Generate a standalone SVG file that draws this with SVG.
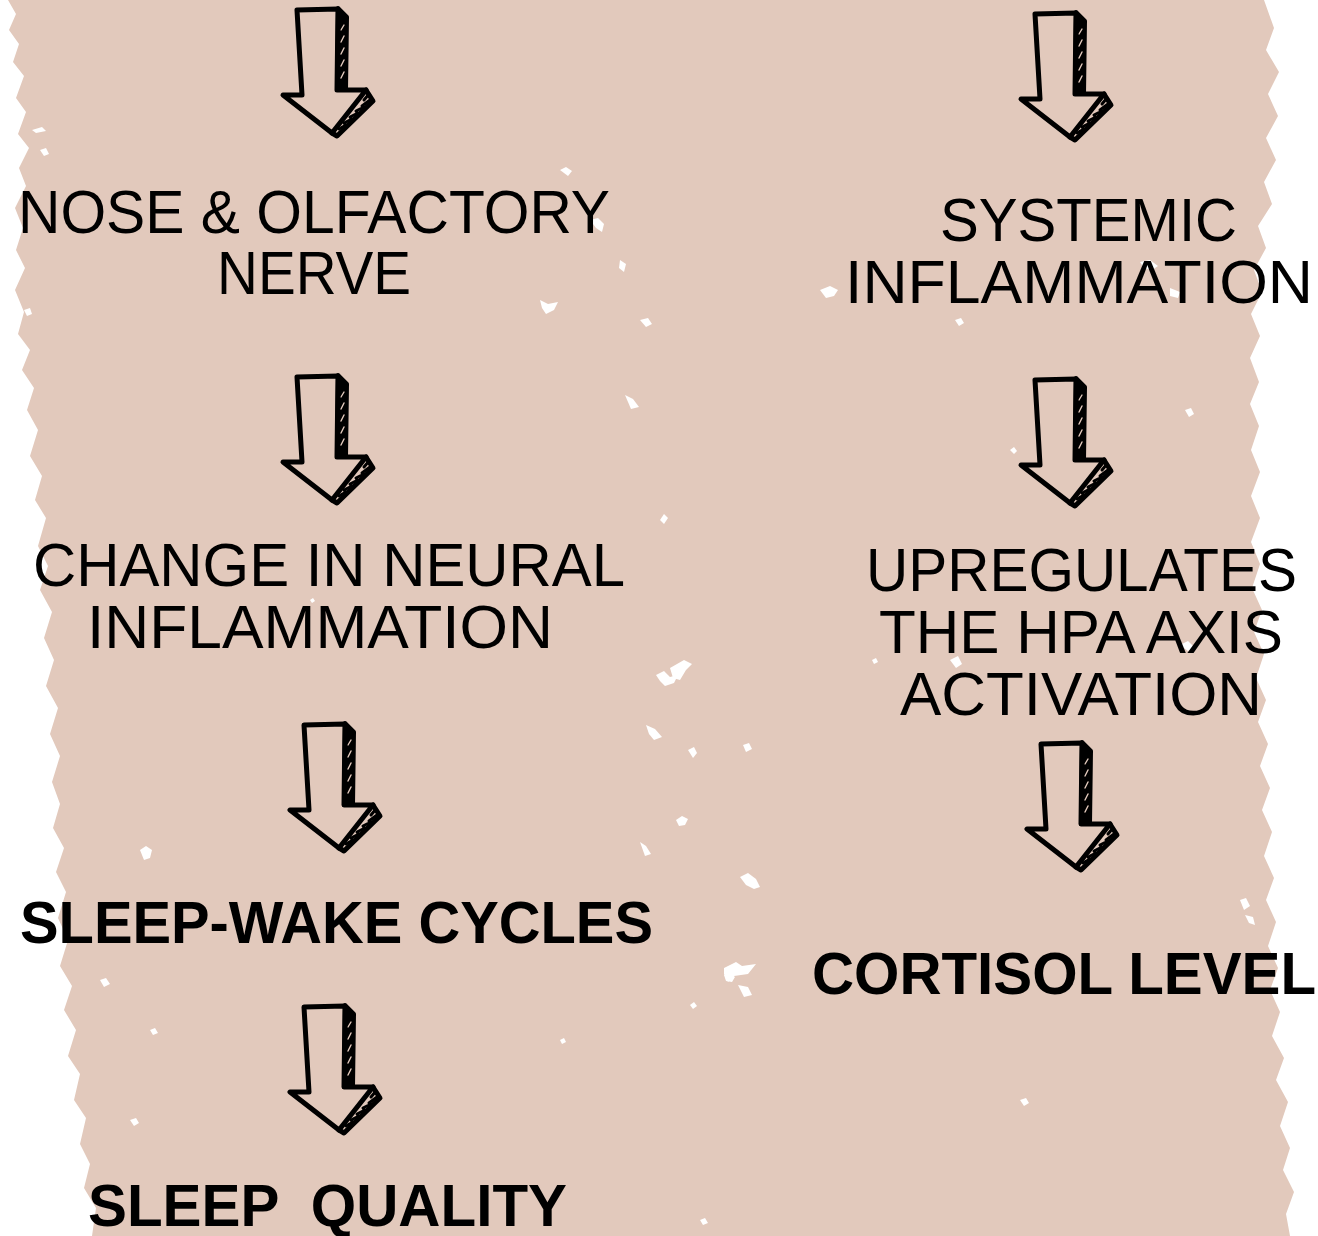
<svg xmlns="http://www.w3.org/2000/svg" width="1318" height="1236" viewBox="0 0 1318 1236">
<style>
.t{font-family:"Liberation Sans","DejaVu Sans",sans-serif;font-size:62px;fill:#000;white-space:pre}
.b{font-family:"Liberation Sans","DejaVu Sans",sans-serif;font-size:60px;font-weight:bold;fill:#000;white-space:pre}
.ao{fill:none;stroke:#000;stroke-width:5;stroke-linejoin:round;stroke-linecap:round}
.as{fill:#000;stroke:#000;stroke-width:4;stroke-linejoin:round}
.hl{stroke:#e2c9bc;stroke-width:1.4;stroke-linecap:round}
.hd{stroke:#000;stroke-width:3;stroke-linecap:round}
.sp{fill:#fff}
</style>
<defs>
<symbol id="arrow" overflow="visible">
<path class="as" d="M58,8 L67,17 L66,90 L57,90 Z"/>
<path class="hl" d="M61,30 L64,25 M61,42 L64,36 M61,54 L64,48 M61,66 L64,60 M61,78 L64,72"/>
<path class="ao" d="M86,90 L93,101 L57,136 L52,133"/>
<path class="hd" d="M89,94 L84,100 M90,100 L82,106 M84,107 L76,111 M78,113 L70,117 M72,119 L64,123 M66,125 L59,129"/>
<path class="ao" d="M17,10 L58,9 L57,90 L86,90 L52,133 L3,95 L22,95 Z"/>
</symbol>
</defs>
<rect width="1318" height="1236" fill="#fff"/>
<path fill="#e2c9bc" d="M8,0 L16,14 L9,30 L19,44 L13,62 L24,76 L16,98 L26,112 L18,134 L29,148 L19,168 L26,186 L15,208 L23,228 L16,250 L25,268 L15,290 L24,312 L18,334 L30,350 L22,370 L34,388 L27,410 L38,430 L30,456 L42,476 L35,500 L46,518 L38,546 L48,566 L40,590 L52,612 L44,638 L54,660 L46,686 L58,708 L50,734 L60,756 L52,782 L60,804 L53,828 L64,848 L56,872 L66,892 L58,918 L68,940 L60,966 L72,986 L64,1010 L76,1030 L68,1056 L80,1074 L74,1100 L86,1118 L80,1144 L90,1164 L84,1188 L96,1208 L92,1236 L1290,1236 L1286,1214 L1294,1192 L1283,1170 L1290,1148 L1280,1126 L1288,1102 L1276,1080 L1284,1058 L1272,1036 L1280,1012 L1270,990 L1278,968 L1268,946 L1276,922 L1266,900 L1274,878 L1264,856 L1272,832 L1262,810 L1270,788 L1260,766 L1268,744 L1258,722 L1266,700 L1256,678 L1264,654 L1254,632 L1262,610 L1252,588 L1260,564 L1251,542 L1260,518 L1251,496 L1260,472 L1251,450 L1259,426 L1250,404 L1259,382 L1250,358 L1260,336 L1251,314 L1262,292 L1254,270 L1266,248 L1258,226 L1272,204 L1264,182 L1276,160 L1266,138 L1278,116 L1268,94 L1279,72 L1266,50 L1274,28 L1264,0 Z"/>
<g id="speckles">
<path class="sp" d="M656,675 l8,-4 l6,6 l8,-2 l-4,8 l-9,3 l-5,-5 z"/>
<path class="sp" d="M670,668 l14,-8 l8,4 l-6,6 l-6,10 l-7,-2 z"/>
<path class="sp" d="M646,725 l9,4 l7,8 l-8,3 l-5,-6 z"/>
<path class="sp" d="M688,750 l6,-3 l3,6 l-4,5 z"/>
<path class="sp" d="M743,745 l6,-2 l3,6 l-6,3 z"/>
<path class="sp" d="M676,820 l6,-4 l6,3 l-3,6 l-6,1 z"/>
<path class="sp" d="M640,842 l6,4 l5,8 l-6,2 z"/>
<path class="sp" d="M740,877 l8,-4 l8,6 l4,8 l-6,2 l-8,-4 z"/>
<path class="sp" d="M724,975 l6,-2 l5,4 l-3,5 l-6,-1 z"/>
<path class="sp" d="M724,968 l12,-6 l6,4 l14,-2 l-8,10 l-14,2 l-6,6 l-4,-8 z"/>
<path class="sp" d="M738,985 l10,2 l4,8 l-8,2 z"/>
<path class="sp" d="M690,1005 l4,-3 l3,4 l-4,3 z"/>
<path class="sp" d="M560,170 l6,-3 l6,4 l-4,5 z"/>
<path class="sp" d="M590,220 l8,-2 l6,6 l-2,8 l-6,-4 z"/>
<path class="sp" d="M540,300 l8,4 l10,-2 l-4,8 l-8,4 l-4,-6 z"/>
<path class="sp" d="M620,260 l6,4 l-2,8 l-5,-4 z"/>
<path class="sp" d="M640,320 l8,-2 l4,6 l-6,3 z"/>
<path class="sp" d="M625,395 l8,4 l6,8 l-8,2 z"/>
<path class="sp" d="M660,520 l4,-6 l4,4 l-4,6 z"/>
<path class="sp" d="M820,290 l10,-4 l8,4 l-4,6 l-8,2 z"/>
<path class="sp" d="M1140,262 l10,-2 l8,6 l-6,4 l-8,-2 z"/>
<path class="sp" d="M1170,288 l10,4 l-2,6 l-8,-2 z"/>
<path class="sp" d="M955,320 l6,-2 l3,5 l-5,3 z"/>
<path class="sp" d="M1010,450 l4,-3 l3,4 l-3,3 z"/>
<path class="sp" d="M1185,410 l6,-2 l3,6 l-5,3 z"/>
<path class="sp" d="M1180,645 l8,-4 l6,6 l-6,4 z"/>
<path class="sp" d="M950,660 l8,-4 l4,8 l-6,4 z"/>
<path class="sp" d="M872,660 l4,-2 l2,4 l-4,2 z"/>
<path class="sp" d="M1240,900 l6,-2 l4,8 l-6,4 z"/>
<path class="sp" d="M1245,915 l8,2 l2,8 l-6,-2 z"/>
<path class="sp" d="M1020,1100 l6,-2 l3,5 l-5,3 z"/>
<path class="sp" d="M130,1120 l6,-2 l3,5 l-5,3 z"/>
<path class="sp" d="M140,850 l6,-4 l6,4 l-2,8 l-6,2 z"/>
<path class="sp" d="M100,980 l6,-2 l4,6 l-6,3 z"/>
<path class="sp" d="M150,1030 l5,-2 l3,5 l-5,2 z"/>
<path class="sp" d="M40,150 l6,-2 l3,6 l-5,2 z"/>
<path class="sp" d="M32,130 l10,-3 l4,4 l-10,2 z"/>
<path class="sp" d="M24,310 l6,-2 l2,6 l-5,2 z"/>
<path class="sp" d="M560,1040 l4,-2 l2,4 l-4,2 z"/>
<path class="sp" d="M700,1220 l5,-2 l3,5 l-5,2 z"/>
<path class="sp" d="M310,600 l3,-2 l2,3 l-3,2 z"/>
</g>
<g id="connectors">
<use id="arrow-1" href="#arrow" x="280" y="0"/>
<use id="arrow-2" href="#arrow" x="280" y="367"/>
<use id="arrow-3" href="#arrow" x="287" y="715"/>
<use id="arrow-4" href="#arrow" x="287" y="997"/>
<use id="arrow-5" href="#arrow" x="1018" y="4"/>
<use id="arrow-6" href="#arrow" x="1018" y="370"/>
<use id="arrow-7" href="#arrow" x="1024" y="734"/>
</g>
<g id="node-nose">
<text class="t" x="18" y="233" textLength="592" lengthAdjust="spacingAndGlyphs">NOSE &amp; OLFACTORY</text>
<text class="t" x="217" y="294" textLength="194" lengthAdjust="spacingAndGlyphs">NERVE</text>
</g>
<g id="node-neural">
<text class="t" x="33" y="586" textLength="592" lengthAdjust="spacingAndGlyphs">CHANGE IN NEURAL</text>
<text class="t" x="87" y="648" textLength="466" lengthAdjust="spacingAndGlyphs">INFLAMMATION</text>
</g>
<g id="node-sleepwake">
<text class="b" x="20" y="943" textLength="633" lengthAdjust="spacingAndGlyphs">SLEEP-WAKE CYCLES</text>
</g>
<g id="node-sleepquality">
<text class="b" x="88" y="1226" textLength="479" lengthAdjust="spacingAndGlyphs">SLEEP  QUALITY</text>
</g>
<g id="node-systemic">
<text class="t" x="940" y="241" textLength="297" lengthAdjust="spacingAndGlyphs">SYSTEMIC</text>
<text class="t" x="845" y="303" textLength="468" lengthAdjust="spacingAndGlyphs">INFLAMMATION</text>
</g>
<g id="node-hpa">
<text class="t" x="866" y="591" textLength="431" lengthAdjust="spacingAndGlyphs">UPREGULATES</text>
<text class="t" x="879" y="653" textLength="404" lengthAdjust="spacingAndGlyphs">THE HPA AXIS</text>
<text class="t" x="900" y="715" textLength="362" lengthAdjust="spacingAndGlyphs">ACTIVATION</text>
</g>
<g id="node-cortisol">
<text class="b" x="812" y="994" textLength="504" lengthAdjust="spacingAndGlyphs">CORTISOL LEVEL</text>
</g>
</svg>
